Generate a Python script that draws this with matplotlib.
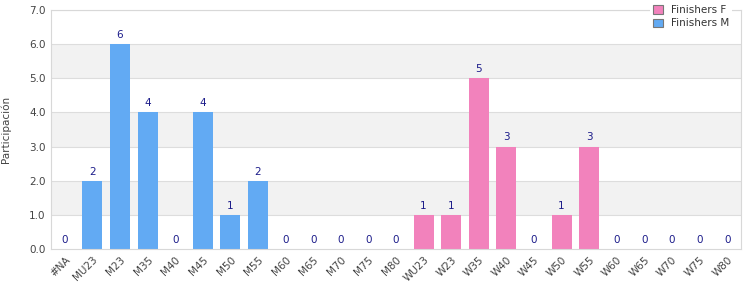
import matplotlib
matplotlib.use('Agg')
import matplotlib.pyplot as plt
import numpy as np

categories = ['#NA', 'MU23', 'M23', 'M35', 'M40', 'M45', 'M50', 'M55', 'M60', 'M65', 'M70', 'M75', 'M80',
              'WU23', 'W23', 'W35', 'W40', 'W45', 'W50', 'W55', 'W60', 'W65', 'W70', 'W75', 'W80']
finishers_m = [0, 2, 6, 4, 0, 4, 1, 2, 0, 0, 0, 0, 0]
finishers_f = [1, 1, 5, 3, 0, 1, 3, 0, 0, 0, 0, 0]

blue = '#62aaf3'
pink = '#f282bc'

fig = plt.figure(figsize=(7.5, 3.0), dpi=100)
ax = fig.add_axes([0.068, 0.17, 0.92, 0.797])

x_m = np.arange(len(finishers_m))
x_f = np.arange(len(finishers_m), len(categories))

# alternating background bands (1-2, 3-4, 5-6 shaded)
for lo in [1, 3, 5]:
    ax.axhspan(lo, lo + 1, facecolor='#f2f2f2', edgecolor='none', zorder=0)
for y in range(1, 8):
    ax.axhline(y, color='#dddddd', lw=0.8, zorder=0.5)

bm = ax.bar(x_m, finishers_m, width=0.72, color=blue, zorder=2, label='Finishers M')
bf = ax.bar(x_f, finishers_f, width=0.72, color=pink, zorder=2, label='Finishers F')

for xs, vals in [(x_m, finishers_m), (x_f, finishers_f)]:
    for xi, v in zip(xs, vals):
        ax.text(xi, v + 0.12, str(v), ha='center', va='bottom', fontsize=7.5, color='#1c1c8a')

ax.set_xlim(-0.5, len(categories) - 0.5)
ax.set_ylim(0, 7)
ax.set_yticks(np.arange(0, 8, 1))
ax.set_yticklabels([f'{v:.1f}' for v in range(8)])
ax.set_xticks(np.arange(len(categories)))
ax.set_xticklabels(categories, rotation=45, ha='right', rotation_mode='anchor')
ax.tick_params(length=0, labelsize=7.5, colors='#444444', pad=4)
ax.set_ylabel('Participación', fontsize=7.5, color='#444444', labelpad=13)

for s in ax.spines.values():
    s.set_color('#d8d8d8')

leg = fig.legend(handles=[bf, bm], loc='upper left', bbox_to_anchor=(0.86, 1.01),
                 fontsize=7.5, frameon=True, handlelength=0.9, handleheight=0.9,
                 borderpad=0.3, labelspacing=0.3, handletextpad=0.8)
leg.get_frame().set_edgecolor('none')
leg.get_frame().set_facecolor('white')
leg.get_frame().set_alpha(1)
for h in leg.legend_handles:
    h.set_edgecolor('#777777')
    h.set_linewidth(0.8)
for t in leg.get_texts():
    t.set_color('#333333')

fig.savefig('out.png', dpi=100)
